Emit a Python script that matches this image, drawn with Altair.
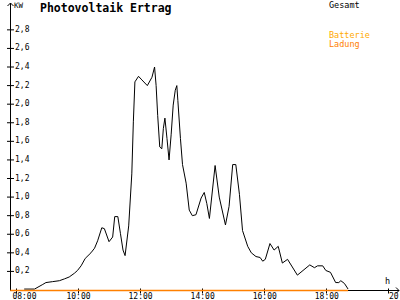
import altair as alt
import pandas as pd

# --- data ---
times = ["08:16", "08:36", "08:52", "08:58", "09:11", "09:24", "09:34", "09:43", "09:53", "09:59",
         "10:06", "10:14", "10:25", "10:32", "10:38", "10:46", "10:51", "11:00", "11:07", "11:11",
         "11:17", "11:22", "11:27", "11:31", "11:38", "11:44", "11:47", "11:50", "11:57", "12:02",
         "12:14", "12:23", "12:28", "12:31", "12:34", "12:38", "12:42", "12:45", "12:48", "12:52",
         "12:56", "13:00", "13:04", "13:08", "13:11", "13:13", "13:18", "13:22", "13:29", "13:35",
         "13:41", "13:48", "13:58", "14:04", "14:09", "14:14", "14:25", "14:33", "14:45", "14:52",
         "14:59", "15:05", "15:12", "15:18", "15:28", "15:35", "15:44", "15:52", "15:57", "16:02",
         "16:11", "16:19", "16:27", "16:35", "16:45", "17:04", "17:28", "17:37", "17:43", "17:53",
         "17:59", "18:08", "18:18", "18:24", "18:28", "18:35", "18:42"]
gesamt_kw = [0.01, 0.01, 0.06, 0.08, 0.09, 0.10, 0.12, 0.14, 0.18, 0.21,
             0.26, 0.34, 0.40, 0.45, 0.53, 0.67, 0.66, 0.52, 0.57, 0.79,
             0.79, 0.61, 0.43, 0.37, 0.69, 1.25, 1.81, 2.24, 2.30, 2.27,
             2.20, 2.29, 2.40, 2.20, 1.88, 1.54, 1.52, 1.74, 1.85, 1.63,
             1.40, 1.67, 1.99, 2.15, 2.20, 2.04, 1.63, 1.35, 1.15, 0.86,
             0.80, 0.81, 0.99, 1.05, 0.93, 0.77, 1.34, 1.00, 0.70, 0.90,
             1.35, 1.35, 1.03, 0.64, 0.47, 0.40, 0.36, 0.35, 0.31, 0.33,
             0.50, 0.43, 0.47, 0.29, 0.33, 0.16, 0.27, 0.24, 0.26, 0.26,
             0.21, 0.19, 0.08, 0.08, 0.10, 0.07, 0.01]

batt_times = ["07:49", "18:42"]
batt_kw = [0.0, 0.0]

y_ticks = [0.2, 0.4, 0.6, 0.8, 1.0, 1.2, 1.4, 1.6, 1.8, 2.0, 2.2, 2.4, 2.6, 2.8]
x_ticks = [8, 10, 12, 14, 16, 18, 20]

title_text = "Photovoltaik Ertrag"
legend_gesamt = "Gesamt"
legend_batt = ["Batterie", "Ladung"]


def to_h(s):
    h, m = s.split(":")
    return int(h) + int(m) / 60.0


XMIN, XMAX = 7.81, 20.34
YMAX = 3.089
FONT = "DejaVu Sans Mono"

df = pd.DataFrame({"hour": [to_h(t) for t in times], "kw": gesamt_kw})
bf = pd.DataFrame({"hour": [to_h(t) for t in batt_times], "kw": batt_kw})
ydf = pd.DataFrame({"v": y_ticks})

xscale = alt.Scale(domain=[XMIN, XMAX], nice=False, zero=False)
yscale = alt.Scale(domain=[0, YMAX], nice=False, zero=False)

xaxis = alt.Axis(
    values=x_ticks,
    labelExpr="(datum.value < 10 ? '0' : '') + datum.value + ':00'",
    offset=-2, tickSize=5, domain=False, grid=False,
    labelPadding=-1, labelBaseline="top",
    labelAlign={"condition": {"test": "datum.value <= 8 || datum.value >= 20", "value": "left"}, "value": "center"},
    labelOffset={"condition": {"test": "datum.value <= 8", "value": -4}, "value": 0},
    labelFont=FONT, labelFontSize=8, labelColor="black", tickColor="black",
    labelFlush=False, labelOverlap=False, title=None,
)

one = alt.Data(values=[{}])

line = alt.Chart(df).mark_line(color="black", strokeWidth=1).encode(
    x=alt.X("hour:Q", scale=xscale, axis=xaxis),
    y=alt.Y("kw:Q", scale=yscale, axis=None),
)

yline = alt.Chart(one).mark_rule(color="black", strokeWidth=1, xOffset=0.5).encode(
    x=alt.X(datum=XMIN), y=alt.Y(datum=0, axis=None), y2=alt.Y2(datum=YMAX))
xline = alt.Chart(one).mark_rule(color="black", strokeWidth=1, yOffset=0.5).encode(
    x=alt.X(datum=XMIN), x2=alt.X2(datum=XMAX), y=alt.Y(datum=0, axis=None))

batt = alt.Chart(bf).mark_line(color="#FF8000", strokeWidth=1.5, yOffset=0.5).encode(
    x=alt.X("hour:Q"), y=alt.Y("kw:Q", axis=None))

ytick_marks = alt.Chart(ydf).mark_rule(color="black", strokeWidth=1).encode(
    x=alt.value(-3), x2=alt.value(4), y=alt.Y("v:Q", axis=None))
ytick_labels = alt.Chart(ydf).transform_calculate(
    lab="replace(format(datum.v, '.1f'), '.', ',')"
).mark_text(align="left", baseline="middle", font=FONT, fontSize=8, color="black").encode(
    x=alt.value(5), y=alt.Y("v:Q", axis=None), text="lab:N")

arrow_up = alt.Chart(one).mark_point(
    shape="M-1,1L0,0L1,1", filled=False, size=36, color="black", strokeWidth=1,
    opacity=1, xOffset=0.5).encode(x=alt.X(datum=XMIN), y=alt.Y(datum=YMAX, axis=None))
arrow_right = alt.Chart(one).mark_point(
    shape="M-1,-1L0,0L-1,1", filled=False, size=36, color="black", strokeWidth=1,
    opacity=1, yOffset=0.5).encode(x=alt.X(datum=XMAX), y=alt.Y(datum=0, axis=None))


def label(text, x, y, color="black", size=8, weight="normal"):
    return alt.Chart(one).mark_text(
        text=text, align="left", baseline="alphabetic", font=FONT,
        fontSize=size, fontWeight=weight, color=color,
    ).encode(x=alt.value(x), y=alt.value(y))


texts = [
    label(title_text, 30, 8.5, size=11.5, weight="bold"),
    label("KW", 4, 4.5, size=7.5),
    label("h", 375, 281, size=8.5),
    label(legend_gesamt, 319, 4.5, size=8.5),
    label(legend_batt[0], 319, 35, color="#FFAA00", size=8.5),
    label(legend_batt[1], 319, 43.5, color="#FF8000", size=8.5),
]

chart = alt.layer(line, yline, xline, batt, ytick_marks, ytick_labels,
                  arrow_up, arrow_right, *texts).properties(
    width=389, height=287,
    autosize=alt.AutoSizeParams(type="none"),
    padding={"left": 10, "top": 3, "right": 1, "bottom": 10},
    background="white",
).configure_view(stroke=None).configure_axis(labelOverlap=False)

chart.save("out.html", embed_options={"renderer": "svg", "actions": False})
